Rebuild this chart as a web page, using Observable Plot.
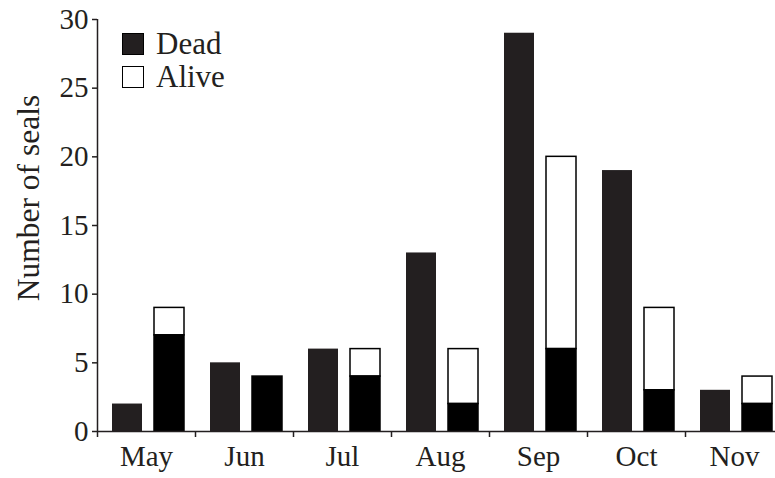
<!DOCTYPE html>
<html><head><meta charset="utf-8">
<script src="https://cdn.jsdelivr.net/npm/d3@7"></script>
<script src="https://cdn.jsdelivr.net/npm/@observablehq/plot@0.6"></script>
<style>
body{margin:0;background:#fff;}
#wrap{position:relative;width:775px;height:478px;font-family:"Liberation Serif","Times New Roman",serif;color:#231f20;}
#legend{position:absolute;left:122px;top:27px;font-size:31px;}
.item{display:flex;align-items:center;height:33px;}
.sw{box-sizing:border-box;width:22px;height:22px;border:1.5px solid #000;margin-right:12px;}
#ylabel{position:absolute;left:29px;top:198px;font-size:31.5px;white-space:nowrap;transform:translate(-50%,-50%) rotate(-90deg);}
</style></head><body>
<div id="wrap"><div id="chart"></div><div id="ylabel"></div><div id="legend"></div></div>
<script>
const months = ["May","Jun","Jul","Aug","Sep","Oct","Nov"];
const deadFirst = [2,5,6,13,29,19,3];
const deadSecond = [7,4,4,2,6,3,2];
const aliveSecond = [2,0,2,4,14,6,2];
const yTicks = [0,5,10,15,20,25,30];
const legendLabels = ["Dead","Alive"];
const legendColors = ["#231f20","#ffffff"];
const yLabel = "Number of seals";

const rows = months.map((m,i)=>({month:m, deadA:deadFirst[i], deadB:deadSecond[i], total:deadSecond[i]+aliveSecond[i]}));

const chart = Plot.plot({
  width: 775, height: 478,
  marginLeft: 97, marginRight: 0, marginTop: 19, marginBottom: 47,
  x: {domain: months, range: [97, 783], padding: 0, axis: null},
  y: {domain: [yTicks[0], yTicks[yTicks.length-1]], axis: null},
  style: {fontFamily: "'Liberation Serif', 'Times New Roman', serif", fontSize: "29px", color: "#231f20", background: "white", overflow: "visible"},
  marks: [
    Plot.barY(rows, {x: "month", y: "deadA", fill: "#231f20", insetLeft: 15, insetRight: 53}),
    Plot.barY(rows.filter(d => d.total > d.deadB), {x: "month", y1: "deadB", y2: "total", fill: "white", stroke: "#000", strokeWidth: 1.5, insetLeft: 57, insetRight: 11}),
    Plot.barY(rows, {x: "month", y: "deadB", fill: "#000", stroke: "#000", strokeWidth: 1.5, insetLeft: 57, insetRight: 11}),
    Plot.ruleY([yTicks[0]], {stroke: "#231f20", strokeWidth: 1.5}),
    Plot.ruleX([months[0]], {y1: yTicks[0], y2: yTicks[yTicks.length-1], dx: -49, stroke: "#231f20", strokeWidth: 1.5}),
    Plot.axisY({ticks: yTicks, tickSize: 5, tickPadding: 4, label: null, stroke: "#231f20", strokeWidth: 1.5, fill: "#231f20"}),
    Plot.axisX({tickSize: 6, dx: -49, tickFormat: () => "", label: null, stroke: "#231f20", strokeWidth: 1.5}),
    Plot.axisX({tickSize: 0, tickPadding: 14, label: null, fill: "#231f20"})
  ]
});
document.getElementById("chart").appendChild(chart);
document.getElementById("ylabel").textContent = yLabel;
const leg = document.getElementById("legend");
legendLabels.forEach((l,i)=>{
  const it = document.createElement("div"); it.className = "item";
  const sw = document.createElement("div"); sw.className = "sw"; sw.style.background = legendColors[i];
  const tx = document.createElement("span"); tx.textContent = l;
  it.appendChild(sw); it.appendChild(tx); leg.appendChild(it);
});
</script>
</body></html>
